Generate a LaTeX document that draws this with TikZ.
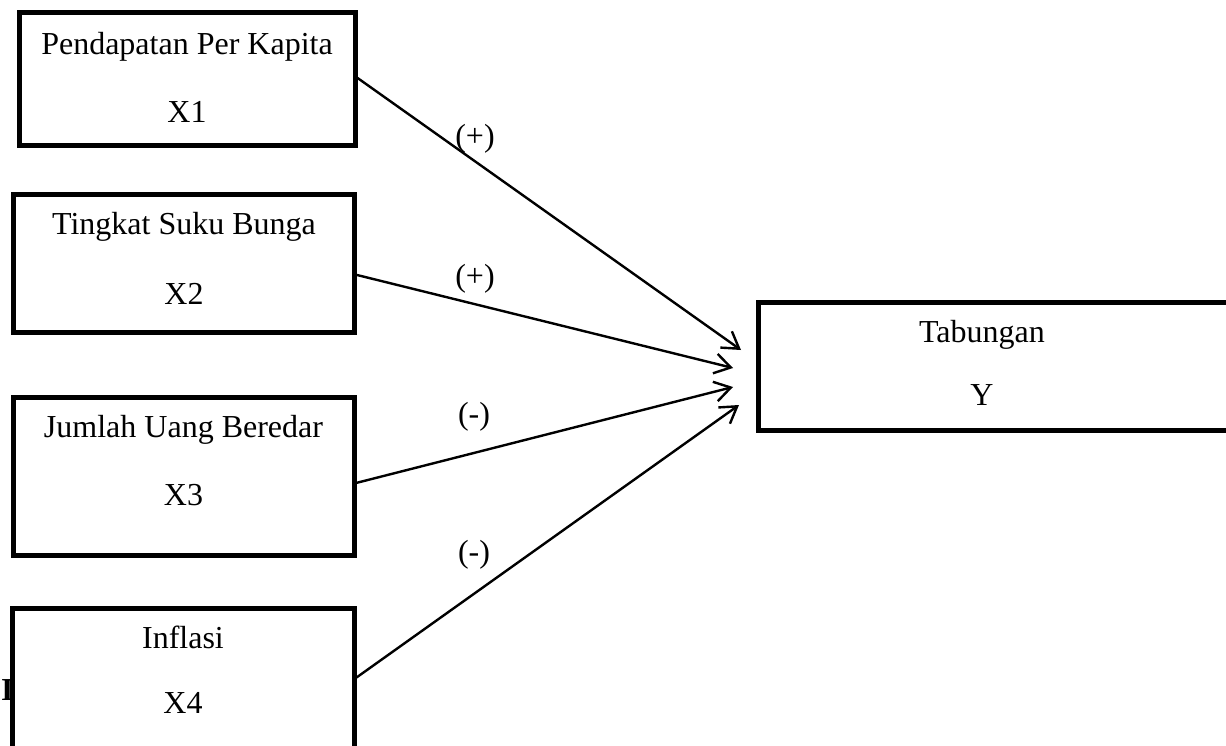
\documentclass[tikz,border=0pt]{standalone}
\usepackage{fontspec}
\setmainfont{Liberation Serif}
\usetikzlibrary{arrows.meta}
\tikzset{
  box/.style={draw=black, fill=white, line width=5pt, rectangle, inner sep=0pt, outer sep=0pt},
  txt/.style={inner sep=0pt, anchor=base, font=\fontsize{32}{38}\selectfont},
  conn/.style={draw=black, line width=2.4pt, -{Straight Barb[length=16pt,width=20pt]}}
}
\begin{document}
\begin{tikzpicture}[x=1pt,y=-1pt]
\useasboundingbox (0,0) rectangle (1226,746);
% stray glyph partly hidden behind box X4
\node[txt, anchor=base west, font=\fontsize{32}{38}\selectfont\bfseries] (stray) at (1,700) {I};
% boxes
\node[box, minimum width=336.5pt, minimum height=132.5pt] (x1) at (187.25,79.25) {};
\node[box, minimum width=340.5pt, minimum height=137.5pt] (x2) at (183.75,263.75) {};
\node[box, minimum width=340.5pt, minimum height=158pt] (x3) at (183.75,476) {};
\node[box, minimum width=342pt, minimum height=160pt] (x4) at (183.5,688.5) {};
\node[box, minimum width=490pt, minimum height=128pt] (y) at (1003,366) {};
% texts
\node[txt] (t1a) at (187,55) {Pendapatan Per Kapita};
\node[txt] (t1b) at (187,123) {X1};
\node[txt] (t2a) at (184,235) {Tingkat Suku Bunga};
\node[txt] (t2b) at (184,304) {X2};
\node[txt] (t3a) at (183.5,437) {Jumlah Uang Beredar};
\node[txt] (t3b) at (183.5,505) {X3};
\node[txt] (t4a) at (183,648) {Inflasi};
\node[txt] (t4b) at (183,713) {X4};
\node[txt] (tya) at (982,342) {Tabungan};
\node[txt] (tyb) at (982,405) {Y};
% connector start and tip points
\coordinate (s1) at ([shift={(1pt,2pt)}]x1.east);
\coordinate (s2) at ([shift={(2pt,-11pt)}]x2.east);
\coordinate (s3) at ([shift={(2pt,-7pt)}]x3.east);
\coordinate (s4) at ([shift={(2pt,11pt)}]x4.east);
\coordinate (e1) at (741,350);
\coordinate (e2) at (733,368);
\coordinate (e3) at (733,387);
\coordinate (e4) at (739,405);
\draw[conn] (s1) -- (e1);
\draw[conn] (s2) -- (e2);
\draw[conn] (s3) -- (e3);
\draw[conn] (s4) -- (e4);
% labels
\node[txt] (l1) at (475,147) {(+)};
\node[txt] (l2) at (475,286) {(+)};
\node[txt] (l3) at (474,424) {(-)};
\node[txt] (l4) at (474,562) {(-)};
\end{tikzpicture}
\end{document}
